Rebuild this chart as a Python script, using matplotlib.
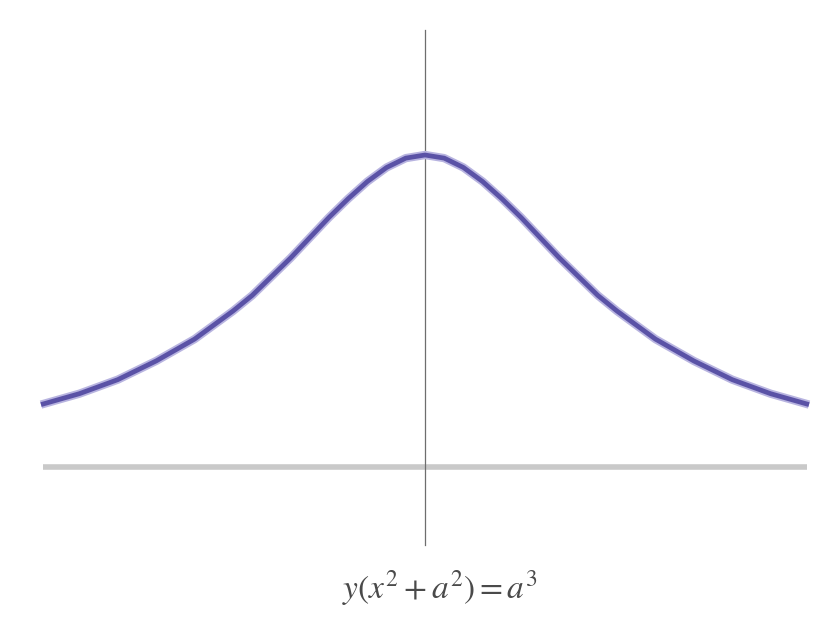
import matplotlib
matplotlib.use("Agg")
import matplotlib.pyplot as plt

# Curve points (x in units of a, y in units of a)
curve_x = [-2.0, -1.8, -1.6, -1.4, -1.2, -1.0, -0.9, -0.8, -0.7, -0.6, -0.5, -0.4,
           -0.3, -0.2, -0.1, 0.0, 0.1, 0.2, 0.3, 0.4, 0.5, 0.6, 0.7, 0.8, 0.9,
           1.0, 1.2, 1.4, 1.6, 1.8, 2.0]
curve_y = [0.20, 0.235, 0.28, 0.34, 0.41, 0.50, 0.55, 0.61, 0.67, 0.735, 0.80, 0.86,
           0.915, 0.96, 0.99, 1.0, 0.99, 0.96, 0.915, 0.86, 0.80, 0.735, 0.67, 0.61, 0.55,
           0.50, 0.41, 0.34, 0.28, 0.235, 0.20]
label = r"$y(x^2+a^2)=a^3$"

plt.rcParams["mathtext.fontset"] = "stix"

fig = plt.figure(figsize=(8.33, 6.26), dpi=100)
ax = fig.add_axes([0, 0, 1, 1])
ax.set_xlim(-2.2135, 2.125)
ax.set_ylim(-0.5096, 1.4968)
ax.axis("off")

# x axis
ax.plot([-1.99, 1.99], [0, 0], color="#c9c9c9", lw=4.0, solid_capstyle="butt", zorder=1)
# y axis
ax.plot([0, 0], [-0.25, 1.40], color="#6e6e6e", lw=0.9, zorder=2)
# curve halo + curve
ax.plot(curve_x, curve_y, color="#b8b4e0", lw=6.0, solid_capstyle="butt",
        solid_joinstyle="round", zorder=3)
ax.plot(curve_x, curve_y, color="#5a52a6", lw=3.4, solid_capstyle="butt",
        solid_joinstyle="round", zorder=4)

ax.text(0.08, -0.39, label, ha="center", va="center", fontsize=24, color="#4a4a4a")

fig.savefig("out.png", dpi=100)
